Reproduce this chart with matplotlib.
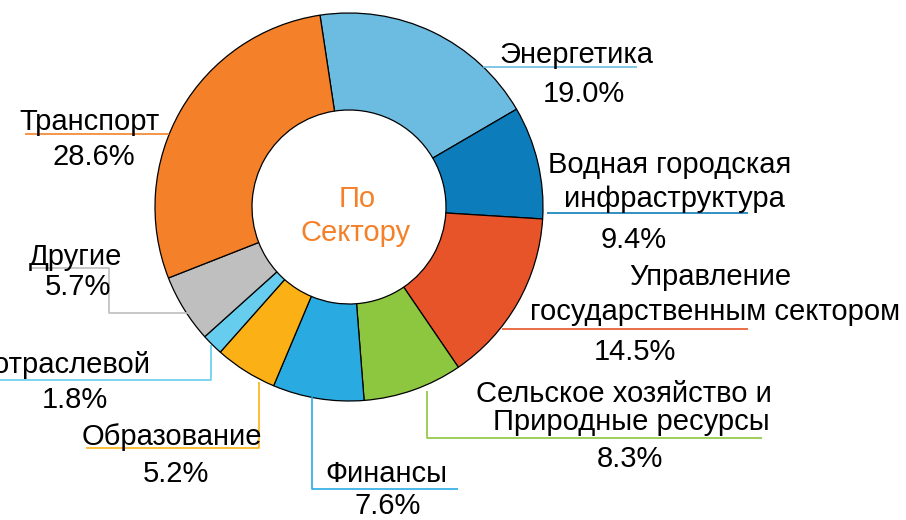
import numpy as np
import matplotlib.pyplot as plt

plt.rcParams['font.family'] = ['Liberation Sans', 'DejaVu Sans']

# data (clockwise from the top)
sectors = ['Энергетика', 'Водная городская\nинфраструктура', 'Управление\nгосударственным сектором',
           'Сельское хозяйство и\nПриродные ресурсы', 'Финансы', 'Образование',
           'Межотраслевой', 'Другие', 'Транспорт']
shares = [19.0, 9.4, 14.5, 8.3, 7.6, 5.2, 1.8, 5.7, 28.6]
colors = ['#6CBBE0', '#0C7DBA', '#E8542A', '#8DC63F', '#29ABE2', '#FBB116',
          '#66CDEE', '#BFBFBF', '#F4812A']

W, H = 906, 520
cx, cy, R = 349, H - 207, 194

fig = plt.figure(figsize=(W / 100, H / 100), dpi=100)
ax = fig.add_axes([0, 0, 1, 1])
ax.pie(shares, colors=colors, startangle=98.6, counterclock=False, center=(cx, cy), radius=R,
       wedgeprops=dict(width=R * 0.5, edgecolor='black', linewidth=0.9))
ax.set_xlim(0, W)
ax.set_ylim(0, H)
ax.set_aspect('auto')
ax.axis('off')


def edge_x(y, side):
    # x on the outer circle at pixel row y
    d = cy - (H - y)
    return cx + side * np.sqrt(R ** 2 - d ** 2)


def edge_y(x):
    # lower outer edge at pixel column x, as pixel row
    return H - (cy - np.sqrt(R ** 2 - (x - cx) ** 2))


def leader(xs, ys, c):
    ax.plot(xs, [H - y for y in ys], color=c, lw=1.2, solid_capstyle='butt', zorder=1)


def label(x, y, s, ha='center'):
    ax.text(x, H - y, s, ha=ha, va='baseline', fontsize=21, color='black')


# leader lines, colour of each slice
leader([edge_x(67, 1), 637], [67, 67], colors[0])
leader([edge_x(213, 1) + 4, 748], [213, 213], colors[1])
leader([edge_x(329, 1) + 2, 748], [329, 329], colors[2])
leader([427, 427, 762], [edge_y(427) + 6, 437.5, 437.5], colors[3])
leader([312, 312, 458], [edge_y(312), 489, 489], colors[4])
leader([259, 259, 86], [edge_y(259) + 3, 448, 448], colors[5])
leader([210.5, 210.5, 0], [edge_y(210.5) + 2, 380, 380], colors[6])
leader([edge_x(313, -1) + 2, 109, 109, 32], [313, 313, 267.5, 267.5], colors[7])
leader([edge_x(134, -1), 25], [134, 134], colors[8])

# labels
label(576, 63, 'Энергетика')
label(584, 102, '19.0%')
label(670, 173, 'Водная городская')
label(674, 207, 'инфраструктура')
label(634, 248, '9.4%')
label(710, 285, 'Управление')
label(715, 320, 'государственным сектором')
label(635, 360, '14.5%')
label(624, 402, 'Сельское хозяйство и')
label(631, 430, 'Природные ресурсы')
label(630, 467, '8.3%')
label(386, 482, 'Финансы')
label(388, 514, '7.6%')
label(172, 445, 'Образование')
label(176, 482, '5.2%')
label(151, 373, 'Межотраслевой', ha='right')
label(75, 408, '1.8%')
label(75, 265, 'Другие')
label(78, 295, '5.7%')
label(90, 130, 'Транспорт')
label(94, 165, '28.6%')

ax.text(357, H - 207, 'По', ha='center', va='baseline', fontsize=21, color='#F4812A')
ax.text(356, H - 241, 'Сектору', ha='center', va='baseline', fontsize=21, color='#F4812A')

fig.savefig('out.png', dpi=100)
